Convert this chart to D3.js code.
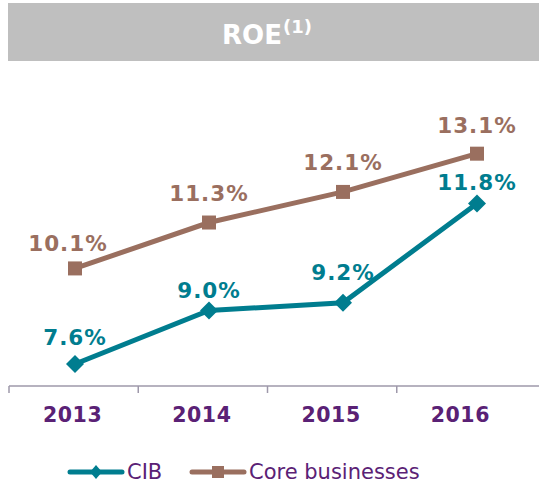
<!DOCTYPE html>
<html><head><meta charset="utf-8">
<script src="https://cdn.jsdelivr.net/npm/d3@7"></script>
<style>body{margin:0;background:#fff}svg{display:block}</style>
</head><body><svg id="c" width="539" height="484"></svg>
<script>
const years = ["2013","2014","2015","2016"];
const cib = [7.6, 9.0, 9.2, 11.8];
const core = [10.1, 11.3, 12.1, 13.1];
const cibLabels = ["7.6%","9.0%","9.2%","11.8%"];
const coreLabels = ["10.1%","11.3%","12.1%","13.1%"];
const seriesNames = ["CIB","Core businesses"];

const svg = d3.select("#c");
const font = "DejaVu Sans, Verdana, sans-serif";
const teal = "#007D8F", brown = "#9A6F5F", purple = "#5A2175", axisCol = "#9E98AA";

// title bar
svg.append("rect").attr("x",8).attr("y",3).attr("width",531).attr("height",58).attr("fill","#BFBFBF");
const t = svg.append("text").attr("x",267).attr("y",44).attr("text-anchor","middle")
  .attr("font-family",font).attr("font-weight","bold").attr("fill","#fff").attr("font-size",26);
t.append("tspan").text("ROE");
t.append("tspan").attr("font-size",18).attr("dy",-11).attr("dx",1).text("(1)");

// scales
const xAxis = d3.scaleBand().domain(years).range([9, 526]);
const xPt = d3.scaleBand().domain(years).range([8, 544]);
const y = d3.scaleLinear().domain([7, 15]).range([387, 81]);

// axis
svg.append("line").attr("x1",9).attr("x2",539).attr("y1",386).attr("y2",386).attr("stroke",axisCol).attr("stroke-width",1.5);
const tickXs = years.map(d=>xAxis(d));
svg.selectAll("line.tk").data(tickXs).join("line").attr("class","tk")
  .attr("x1",d=>d).attr("x2",d=>d).attr("y1",386).attr("y2",393).attr("stroke",axisCol).attr("stroke-width",1.5);
svg.selectAll("text.yr").data(years).join("text").attr("class","yr")
  .attr("x",d=>xAxis(d)+xAxis.bandwidth()/2 - 1).attr("y",422).attr("text-anchor","middle")
  .attr("font-family",font).attr("font-weight","bold").attr("font-size",20.5).attr("letter-spacing",0.6)
  .attr("fill",purple).text(d=>d);

const line = d3.line().x((d,i)=>xPt(years[i])+xPt.bandwidth()/2).y(d=>y(d));
svg.append("path").datum(core).attr("d",line).attr("fill","none").attr("stroke",brown).attr("stroke-width",5);
svg.append("path").datum(cib).attr("d",line).attr("fill","none").attr("stroke",teal).attr("stroke-width",5);

const px = (i)=>xPt(years[i])+xPt.bandwidth()/2;
svg.selectAll("rect.sq").data(core).join("rect").attr("class","sq")
  .attr("x",(d,i)=>px(i)-7).attr("y",d=>y(d)-7).attr("width",14).attr("height",14).attr("fill",brown);
svg.selectAll("path.dm").data(cib).join("path").attr("class","dm")
  .attr("d",(d,i)=>`M${px(i)},${y(d)-9}L${px(i)+9},${y(d)}L${px(i)},${y(d)+9}L${px(i)-9},${y(d)}Z`).attr("fill",teal);

// labels
const coreOff = [[-7,-17],[0,-22],[0,-22],[0,-21]];
const cibOff = [[0,-19],[0,-13],[0,-23],[0,-13]];
svg.selectAll("text.cl").data(core).join("text").attr("class","cl")
  .attr("x",(d,i)=>px(i)+coreOff[i][0]).attr("y",(d,i)=>y(d)+coreOff[i][1]).attr("text-anchor","middle")
  .attr("font-family",font).attr("font-weight","bold").attr("font-size",21.5).attr("letter-spacing",1)
  .attr("fill",brown).text((d,i)=>coreLabels[i]);
svg.selectAll("text.bl").data(cib).join("text").attr("class","bl")
  .attr("x",(d,i)=>px(i)+cibOff[i][0]).attr("y",(d,i)=>y(d)+cibOff[i][1]).attr("text-anchor","middle")
  .attr("font-family",font).attr("font-weight","bold").attr("font-size",21.5).attr("letter-spacing",1)
  .attr("fill",teal).text((d,i)=>cibLabels[i]);

// legend
const lg = svg.append("g");
const items = [{name:seriesNames[0],c:teal,x:70,m:"d"},{name:seriesNames[1],c:brown,x:192,m:"s"}];
items.forEach(it=>{
  lg.append("line").attr("x1",it.x).attr("x2",it.x+52).attr("y1",472).attr("y2",472)
    .attr("stroke",it.c).attr("stroke-width",5).attr("stroke-linecap","round");
  const cx = it.x+26;
  if(it.m==="d") lg.append("path").attr("d",`M${cx},465L${cx+6},472L${cx},479L${cx-6},472Z`).attr("fill",it.c);
  else lg.append("rect").attr("x",cx-6).attr("y",466).attr("width",12).attr("height",12).attr("fill",it.c);
  lg.append("text").attr("x",it.x+57).attr("y",479).attr("font-family",font).attr("font-size",21)
    .attr("fill",purple).text(it.name);
});
</script></body></html>
